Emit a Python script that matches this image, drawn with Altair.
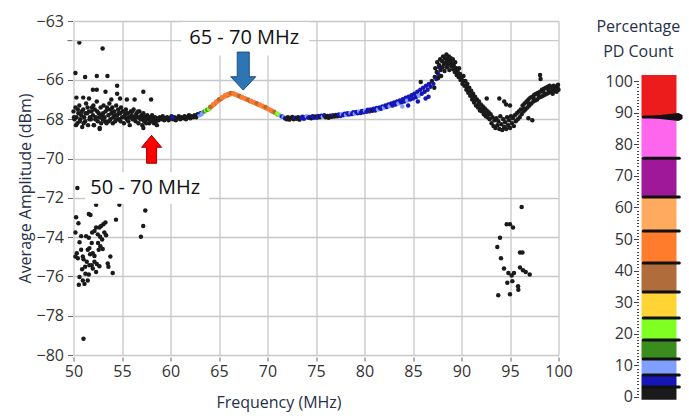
import altair as alt
import pandas as pd

# ---------------- data ----------------
# pct codes: 1 black, 5 dark blue, 10 light blue, 15 dark green, 22 bright green,
# 38 brown, 47 orange, 57 light orange
seg_left = [
    (50.0, -67.6), (50.1, -68.0), (50.2, -67.4), (50.3, -67.9), (50.4, -68.2), (50.5, -67.7),
    (50.6, -67.3), (50.7, -68.0), (50.8, -67.8), (50.9, -68.4), (51.0, -67.5), (51.1, -67.9),
    (51.2, -68.1), (51.3, -67.2), (51.4, -67.7), (51.5, -68.3), (51.6, -67.6), (51.7, -67.9),
    (51.8, -68.0), (51.9, -67.4), (52.0, -67.8), (52.1, -68.3), (52.2, -67.5), (52.3, -67.9),
    (52.4, -67.1), (52.5, -68.1), (52.6, -67.7), (52.7, -68.5), (52.8, -67.4), (52.9, -67.8),
    (53.0, -68.0), (53.1, -67.3), (53.2, -67.9), (53.3, -67.6), (53.4, -68.2), (53.5, -67.5),
    (53.6, -67.8), (53.7, -67.2), (53.8, -68.0), (53.9, -67.7), (54.0, -67.4), (54.1, -67.9),
    (54.2, -67.6), (54.3, -68.1), (54.4, -67.3), (54.5, -67.8), (54.6, -67.5), (54.7, -68.0),
    (54.8, -67.7), (54.9, -67.4), (55.0, -67.9), (55.1, -67.6), (55.2, -68.2), (55.3, -67.8),
    (55.4, -67.5), (55.5, -68.0), (55.6, -67.7), (55.7, -67.9), (55.8, -68.3), (55.9, -67.6),
    (56.0, -67.8), (56.1, -68.0), (56.2, -67.5), (56.3, -67.9), (56.4, -68.1), (56.5, -67.7),
    (56.6, -67.9), (56.7, -68.2), (56.8, -67.6), (56.9, -68.0), (57.0, -67.8), (57.1, -68.3),
    (57.2, -67.7), (57.3, -68.1), (57.4, -67.9), (57.5, -68.2), (57.6, -67.8), (57.7, -68.0),
    (57.8, -68.2), (57.9, -67.9), (58.0, -68.1), (58.1, -67.8), (58.2, -68.0), (58.3, -68.2),
    (58.4, -67.9), (58.5, -68.1),
    (50.05, -67.9), (50.25, -68.3), (50.45, -67.5), (50.65, -68.1), (50.85, -67.6), (51.05, -68.2),
    (51.25, -67.7), (51.45, -67.4), (51.65, -68.0), (51.85, -67.6), (52.05, -67.3), (52.25, -68.0),
    (52.45, -67.6), (52.65, -67.9), (52.85, -68.2), (53.05, -67.7), (53.25, -68.1), (53.45, -67.4),
    (53.65, -68.1), (53.85, -67.5), (54.05, -68.2), (54.25, -67.8), (54.45, -68.0), (54.65, -67.7),
    (54.85, -68.1), (55.05, -67.6), (55.25, -67.9), (55.45, -67.7), (55.65, -68.1), (55.85, -67.9),
    (56.05, -67.6), (56.25, -68.0), (56.45, -67.8), (56.65, -67.6), (56.85, -67.9), (57.05, -68.0),
    (57.25, -67.9), (57.45, -68.0), (57.65, -67.9), (57.85, -68.0), (58.05, -67.9), (58.25, -68.1),
    (58.45, -67.95),
]
seg_outliers = [
    (50.6, -64.1), (53.0, -64.4), (50.2, -65.65), (51.2, -65.85), (52.4, -65.8), (53.5, -65.8),
    (52.0, -66.5), (52.4, -66.5), (53.3, -66.6), (54.5, -66.3), (54.5, -66.7), (57.2, -66.6),
    (56.3, -67.0), (58.0, -67.0), (55.5, -67.0), (54.8, -66.95), (52.7, -68.45), (52.1, -68.3),
    (57.2, -68.45), (58.6, -68.3), (51.0, -66.9), (53.9, -67.0), (51.6, -66.95), (50.3, -66.9),
    (50.4, -71.5),
]
seg_low_left = [
    (50.27, -72.99), (50.51, -73.29), (50.2, -73.77), (50.79, -73.95), (50.62, -74.26),
    (50.34, -74.82), (50.2, -74.99), (50.45, -75.08), (50.79, -74.64), (50.96, -74.99),
    (51.03, -75.13), (51.37, -75.25), (51.2, -75.51), (50.89, -75.63), (50.62, -76.03),
    (50.55, -76.42), (50.96, -76.21), (51.13, -76.38), (51.47, -76.21), (51.58, -75.9),
    (51.23, -75.86), (51.64, -75.43), (51.88, -75.43), (52.16, -75.25), (51.99, -75.6),
    (52.4, -75.37), (52.67, -75.48), (52.33, -75.77), (51.71, -74.87), (51.47, -74.64),
    (51.64, -74.56), (51.88, -74.3), (51.58, -74.03), (51.3, -73.95), (51.92, -73.77),
    (52.16, -73.69), (52.33, -73.51), (52.67, -73.51), (52.84, -73.43), (53.08, -73.34),
    (53.29, -73.25), (52.5, -73.86), (52.74, -73.98), (52.95, -74.12), (53.18, -73.77),
    (53.36, -73.91), (52.53, -74.3), (52.77, -74.47), (53.01, -74.61), (52.6, -74.64),
    (52.16, -74.96), (51.99, -74.82), (53.8, -74.99), (53.53, -75.34), (53.6, -75.51),
    (54.04, -75.83), (54.38, -73.11), (54.73, -72.35), (52.33, -72.35), (51.58, -72.82),
    (51.75, -72.87), (57.4, -72.64), (57.19, -73.43), (56.95, -73.98), (51.03, -79.17),
]
seg_low_right = [
    (96.2, -72.47), (94.66, -73.34), (95.0, -73.34), (95.31, -73.51), (93.97, -74.03),
    (93.69, -74.5), (94.07, -75.08), (94.38, -75.6), (94.83, -75.83), (95.17, -75.95),
    (95.41, -75.83), (96.03, -74.78), (96.28, -74.78), (96.03, -75.55), (96.34, -75.69),
    (96.62, -75.77), (97.03, -75.9), (94.72, -76.32), (95.24, -76.24), (95.83, -76.5),
    (95.86, -76.68), (93.79, -76.96), (95.0, -76.91),
]
seg_base = [
    (58.6, -67.95, 1), (58.75, -68.05, 1), (58.9, -67.9, 1), (59.05, -68.0, 1), (59.2, -67.85, 1),
    (59.35, -68.05, 1), (59.5, -67.95, 1), (59.65, -67.9, 1), (59.8, -68.05, 1), (59.95, -67.95, 1),
    (60.1, -67.85, 1), (60.25, -68.0, 1), (60.4, -67.9, 1), (60.55, -68.05, 1), (60.7, -67.95, 1),
    (60.85, -67.85, 1), (61.0, -68.0, 1), (61.15, -67.9, 1), (61.3, -67.95, 1), (61.45, -67.85, 1),
    (61.6, -68.0, 1), (61.75, -67.9, 1), (61.9, -67.8, 1), (62.05, -67.95, 1), (62.2, -67.85, 1),
    (62.35, -67.9, 1), (62.5, -67.8, 1), (62.65, -67.9, 1), (62.8, -67.75, 1), (60.2, -67.9, 5),
]
seg_hump = [
    (63.0, -67.8, 10), (63.1, -67.7, 5), (63.2, -67.75, 10), (63.35, -67.65, 10), (63.5, -67.6, 15),
    (63.65, -67.55, 22), (63.8, -67.52, 15), (63.95, -67.47, 22), (64.0, -67.48, 22),
    (64.15, -67.4, 47), (64.3, -67.33, 47), (64.45, -67.27, 47), (64.6, -67.2, 38), (64.75, -67.14, 47),
    (64.9, -67.08, 47), (65.05, -67.02, 47), (65.2, -66.97, 38), (65.35, -66.92, 47), (65.5, -66.87, 47),
    (65.65, -66.83, 47), (65.8, -66.8, 47), (65.95, -66.77, 38), (66.1, -66.74, 47), (66.25, -66.72, 47),
    (66.4, -66.7, 47), (66.55, -66.73, 47), (66.7, -66.76, 47), (66.85, -66.79, 57), (67.0, -66.82, 38),
    (67.15, -66.86, 47), (67.3, -66.89, 47), (67.45, -66.92, 47), (67.6, -66.95, 47), (67.75, -66.98, 47),
    (67.9, -67.01, 47), (68.05, -67.04, 47), (68.2, -67.08, 38), (68.35, -67.11, 47), (68.5, -67.14, 47),
    (68.65, -67.17, 47), (68.8, -67.2, 47), (68.95, -67.24, 47), (69.1, -67.27, 47), (69.25, -67.3, 47),
    (69.4, -67.33, 57), (69.55, -67.37, 47), (69.7, -67.4, 47), (69.85, -67.44, 47), (70.0, -67.47, 47),
    (70.15, -67.51, 47), (70.3, -67.55, 47), (70.45, -67.59, 38), (70.6, -67.63, 47), (70.75, -67.67, 38),
    (70.9, -67.72, 22), (71.05, -67.76, 15), (71.2, -67.79, 22), (71.35, -67.83, 10), (71.5, -67.86, 5),
    (71.65, -67.88, 10),
    (64.1, -67.36, 38), (64.4, -67.24, 47), (64.7, -67.1, 47), (65.0, -66.98, 38), (65.3, -66.88, 47),
    (65.6, -66.78, 47), (65.9, -66.72, 47), (66.2, -66.67, 38), (66.5, -66.68, 47), (66.8, -66.74, 47),
    (67.1, -66.81, 38), (67.4, -66.87, 47), (67.7, -66.93, 47), (68.0, -66.99, 38), (68.3, -67.06, 47),
    (68.6, -67.12, 47), (68.9, -67.19, 38), (69.2, -67.25, 47), (69.5, -67.31, 47), (69.8, -67.38, 38),
    (70.1, -67.46, 47), (70.4, -67.54, 47), (70.7, -67.62, 38), (71.0, -67.71, 22),
]
seg_rise = [
    (71.8, -67.95, 5), (71.95, -68.0, 1), (72.1, -67.9, 1), (72.25, -68.02, 1), (72.4, -67.95, 1),
    (72.55, -67.88, 1), (72.7, -68.0, 1), (72.85, -67.92, 5), (73.0, -67.98, 1), (73.15, -67.9, 1),
    (73.3, -68.02, 1), (73.45, -67.93, 5), (73.6, -67.87, 5), (73.75, -67.97, 5), (73.9, -67.9, 5),
    (74.05, -67.85, 10), (74.2, -67.93, 5), (74.35, -67.88, 5), (74.5, -67.95, 1), (74.65, -67.85, 5),
    (74.8, -67.92, 5), (74.95, -67.86, 1), (75.1, -67.93, 5), (75.25, -67.84, 5), (75.4, -67.9, 1),
    (75.55, -67.82, 5), (75.7, -67.88, 10), (75.85, -67.8, 5), (76.0, -67.9, 1), (76.15, -67.84, 1),
    (76.3, -67.92, 1), (76.45, -67.82, 1), (76.6, -67.88, 1), (76.75, -67.8, 5), (76.9, -67.86, 1),
    (77.05, -67.78, 1), (77.2, -67.85, 1), (77.35, -67.76, 5), (77.5, -67.83, 5), (77.65, -67.74, 10),
    (77.8, -67.8, 5), (77.95, -67.72, 5), (78.1, -67.78, 10), (78.25, -67.7, 5), (78.4, -67.76, 5),
    (78.55, -67.68, 10), (78.7, -67.74, 5), (78.85, -67.65, 5), (79.0, -67.72, 10), (79.15, -67.63, 5),
    (79.3, -67.7, 5), (79.45, -67.6, 10), (79.6, -67.68, 5), (79.75, -67.58, 5), (79.9, -67.65, 5),
    (80.05, -67.55, 10), (80.2, -67.62, 5), (80.35, -67.52, 5), (80.5, -67.6, 5), (80.65, -67.5, 5),
    (80.8, -67.57, 1), (80.95, -67.47, 5), (81.1, -67.55, 5), (81.25, -67.43, 5), (81.4, -67.5, 10),
    (81.55, -67.4, 5), (81.7, -67.47, 5), (81.85, -67.35, 5), (82.0, -67.42, 10), (82.15, -67.3, 5),
    (82.3, -67.38, 5), (82.45, -67.25, 5), (82.6, -67.34, 10), (82.75, -67.2, 5), (82.9, -67.3, 5),
    (83.05, -67.15, 5), (83.2, -67.25, 5), (83.35, -67.1, 5), (83.5, -67.2, 10), (83.65, -67.05, 5),
    (83.8, -67.15, 5), (83.95, -66.98, 5), (84.1, -67.1, 5), (84.25, -66.9, 5), (84.4, -67.05, 10),
    (84.55, -66.85, 5), (84.7, -67.0, 5), (84.85, -66.78, 5), (85.0, -66.95, 5), (85.15, -66.7, 5),
    (85.3, -66.88, 5), (85.45, -66.6, 5), (85.6, -66.8, 10), (85.75, -66.5, 5), (85.9, -66.7, 5),
    (86.05, -66.4, 5), (86.2, -66.6, 5), (86.35, -66.3, 5), (86.5, -66.5, 5), (86.65, -66.2, 5),
    (86.8, -66.35, 5), (86.95, -66.05, 1), (87.1, -66.2, 5), (87.25, -65.85, 1), (87.4, -65.95, 5),
    (84.5, -67.3, 5), (83.9, -67.35, 10), (85.5, -67.1, 5), (86.3, -66.95, 5), (86.6, -66.85, 5),
    (85.8, -66.1, 1), (87.6, -65.7, 5), (87.7, -65.35, 5), (87.2, -66.4, 1),
]
seg_peak = [
    (87.3, -65.4), (87.45, -65.6), (87.5, -65.1), (87.6, -65.9), (87.7, -65.25), (87.8, -64.95),
    (87.85, -65.5), (87.9, -65.8), (88.0, -65.05), (88.05, -65.35), (88.1, -64.8), (88.2, -65.2),
    (88.25, -65.55), (88.3, -64.9), (88.4, -65.1), (88.45, -64.7), (88.5, -65.35), (88.55, -64.95),
    (88.6, -65.2), (88.7, -64.8), (88.75, -65.5), (88.8, -65.05), (88.9, -64.9), (88.95, -65.3),
    (89.0, -65.15), (89.1, -64.95), (89.15, -65.45), (89.2, -65.25), (89.3, -65.6), (89.35, -65.1),
    (89.45, -65.4), (89.5, -65.75), (89.6, -65.55), (89.7, -65.85), (89.75, -65.4), (89.85, -65.7),
    (89.9, -66.0),
    (90.0, -65.9), (90.1, -66.2), (90.2, -65.8), (90.3, -66.3), (90.4, -66.05), (90.5, -66.5),
    (90.6, -66.2), (90.7, -66.65), (90.8, -66.4), (90.9, -66.8), (91.0, -66.55), (91.1, -67.0),
    (91.2, -66.7), (91.3, -67.15), (91.4, -66.85), (91.5, -67.3), (91.6, -67.0), (91.7, -67.4),
    (91.8, -67.1), (91.9, -67.55), (92.0, -67.25), (92.1, -67.6), (92.2, -67.35), (92.3, -67.75),
    (92.4, -67.45), (92.5, -67.85), (92.6, -67.55), (92.7, -67.9), (92.8, -67.65), (92.9, -68.0),
    (90.25, -66.05), (90.55, -66.35), (90.85, -66.6), (91.15, -66.85), (91.45, -67.05),
    (91.75, -67.25), (92.05, -67.45), (92.35, -67.6), (92.65, -67.75),
    (92.6, -66.95), (93.9, -66.95), (94.4, -67.1), (95.0, -67.3), (94.6, -67.25),
    (93.0, -67.75), (93.1, -68.2), (93.2, -67.9), (93.3, -68.35), (93.4, -68.05), (93.5, -68.45),
    (93.6, -67.95), (93.7, -68.3), (93.8, -68.1), (93.9, -68.5), (94.0, -67.85), (94.1, -68.25),
    (94.2, -68.55), (94.3, -68.0), (94.4, -68.4), (94.5, -68.15), (94.6, -68.5), (94.7, -67.9),
    (94.8, -68.3), (94.9, -68.05), (95.0, -68.45), (95.1, -67.85), (95.2, -68.2), (95.3, -67.95),
    (95.4, -68.35), (95.5, -67.8), (95.6, -68.1), (95.7, -67.7), (95.8, -68.0),
    (95.9, -67.6), (96.0, -67.9), (96.1, -67.5), (96.2, -67.75), (96.3, -67.3), (96.4, -67.6),
    (96.5, -67.2), (96.6, -67.5), (96.7, -67.1), (96.8, -67.4), (96.9, -67.0), (97.0, -67.3),
    (97.1, -66.9), (97.2, -67.2), (97.3, -66.85), (97.4, -67.1), (97.5, -66.75), (97.6, -67.05),
    (97.7, -66.7), (97.8, -67.0), (97.9, -66.65), (98.0, -66.9), (98.1, -66.6), (98.2, -66.85),
    (98.3, -66.5), (98.4, -66.8), (98.5, -66.45), (98.6, -66.75), (98.7, -66.4), (98.8, -66.7),
    (98.9, -66.35), (99.0, -66.65), (99.1, -66.3), (99.2, -66.6), (99.3, -66.4), (99.4, -66.7),
    (99.5, -66.3), (99.6, -66.55), (99.7, -66.35), (99.8, -66.6), (99.9, -66.4), (100.0, -66.5),
    (98.1, -65.75), (98.15, -65.95), (97.3, -68.05), (96.9, -67.95),
    (96.45, -67.45), (96.95, -67.2), (97.45, -66.95), (97.95, -66.8), (98.45, -66.6),
    (98.95, -66.5), (99.45, -66.5), (99.95, -66.25),
]

# axis ticks / extra grid line (the -64 line carries no label in the picture)
y_label_values = [-80, -78, -76, -74, -72, -70, -68, -66, -63]
x_label_values = [50, 55, 60, 65, 70, 75, 80, 85, 90, 95, 100]
extra_grid_y = [-64]

# legend (colour bar) data
band_lo = [-0.9, 3.2, 7, 12, 18, 25, 33.2, 42.4, 52.5, 63.3, 75.6, 88.6]
band_hi = [3.2, 7, 12, 18, 25, 33.2, 42.4, 52.5, 63.3, 75.6, 88.6, 101.9]
band_colors = ["#1a1a1a", "#1616b8", "#80a0ff", "#3a8c1c", "#80ff22", "#ffd434",
               "#b06c3a", "#ff7c2c", "#ffaa5e", "#a0189a", "#ff66ee", "#ec1c1c"]
thresholds = band_lo[1:]
marker_value = [88.6]
legend_title = ["Percentage", "PD Count"]
legend_title_y = [117.1, 109.2]

# annotations
label_text = ["65 - 70 MHz", "50 - 70 MHz"]
label_x = [67.6, 57.4]
label_y = [-63.87, -71.52]
box_x0 = [61.1, 51.2]
box_x1 = [74.3, 64.0]
box_y0 = [-63.05, -70.7]
box_y1 = [-64.75, -72.3]
blue_arrow = (67.5, -65.55)
red_arrow = (58.05, -69.53)

# ---------------- build tables ----------------
rows = []
for x, y in seg_left + seg_outliers + seg_low_left + seg_low_right:
    rows.append({"f": x, "a": y, "p": 1})
for x, y, p in seg_base + seg_hump + seg_rise:
    rows.append({"f": x, "a": y, "p": p})
for x, y in seg_peak:
    rows.append({"f": x, "a": y, "p": 1})
pts = pd.DataFrame(rows)

color_scale = alt.Scale(type="threshold", domain=thresholds, range=band_colors)
FONT = "Open Sans"
TXT = "#333333"
TTL = "#26304a"
GRID = "#c8c8c8"
xs = alt.Scale(domain=[50, 100], nice=False, zero=False)
ys = alt.Scale(domain=[-80, -63], nice=False, zero=False)

base_pts = alt.Chart(pts).mark_circle(size=20, opacity=1).encode(
    x=alt.X("f:Q", scale=xs, title="Frequency (MHz)",
            axis=alt.Axis(values=x_label_values, grid=True, gridColor=GRID,
                          gridWidth=1.3, domain=False, tickSize=4, offset=2, tickColor="#666",
                          labelFont=FONT, labelFontSize=16, labelColor=TXT, labelPadding=2,
                          labelOverlap=False, labelFlush=False,
                          titleFont=FONT, titleFontSize=16, titleFontWeight="normal",
                          titleColor=TTL, titlePadding=15, titleX=205)),
    y=alt.Y("a:Q", scale=ys, title="Average Amplitude (dBm)",
            axis=alt.Axis(values=y_label_values,
                          grid=True, gridColor=GRID, gridWidth=1.3, domain=False,
                          tickSize=5, offset=1, tickColor="#666", labelOverlap=False,
                          labelFlush=False,
                          labelFont=FONT, labelFontSize=16, labelColor=TXT, labelPadding=4,
                          titleFont=FONT, titleFontSize=16, titleFontWeight="normal",
                          titleColor=TTL, titlePadding=3)),
    color=alt.Color("p:Q", scale=color_scale, legend=None),
)

eg = pd.DataFrame({"g": extra_grid_y})
grid64 = alt.Chart(eg).mark_rule(color=GRID, strokeWidth=1.3).encode(
    x=alt.datum(50, scale=xs), x2=alt.datum(100), y=alt.Y("g:Q", scale=ys))
tick64 = alt.Chart(eg).mark_rule(color="#666", strokeWidth=1).encode(
    x=alt.datum(49.38, scale=xs), x2=alt.datum(49.9), y=alt.Y("g:Q", scale=ys))

ann = pd.DataFrame({"t": label_text, "x": label_x, "y": label_y,
                    "x0": box_x0, "x1": box_x1, "y0": box_y0, "y1": box_y1})
boxes = alt.Chart(ann).mark_rect(color="white").encode(
    x=alt.X("x0:Q", scale=xs), x2="x1:Q", y=alt.Y("y0:Q", scale=ys), y2="y1:Q")
texts = alt.Chart(ann).mark_text(font=FONT, fontSize=20, color="#111").encode(
    x=alt.X("x:Q", scale=xs), y=alt.Y("y:Q", scale=ys), text="t:N")

down_path = "M-0.48,-1.52 L0.48,-1.52 L0.48,0.45 L1,0.45 L0,1.52 L-1,0.45 L-0.48,0.45 Z"
up_path = "M0,-1.4 L1,-0.2 L0.5,-0.2 L0.5,1.4 L-0.5,1.4 L-0.5,-0.2 L-1,-0.2 Z"
barrow = alt.Chart(pd.DataFrame({"x": [blue_arrow[0]], "y": [blue_arrow[1]]})).mark_point(
    shape=down_path, size=625, filled=True, fill="#2e75b6", stroke="#1f4e79", strokeWidth=1, opacity=1
).encode(x=alt.X("x:Q", scale=xs), y=alt.Y("y:Q", scale=ys))
rarrow = alt.Chart(pd.DataFrame({"x": [red_arrow[0]], "y": [red_arrow[1]]})).mark_point(
    shape=up_path, size=400, filled=True, fill="#ff0000", stroke="#a00000", strokeWidth=1, opacity=1
).encode(x=alt.X("x:Q", scale=xs), y=alt.Y("y:Q", scale=ys))

main = alt.layer(base_pts, grid64, tick64, boxes, barrow, rarrow, texts).properties(
    width=485, height=334)

# ---------------- legend ----------------
bands = pd.DataFrame({"lo": band_lo, "hi": band_hi, "p": [(a + b) / 2 for a, b in zip(band_lo, band_hi)]})
lys = alt.Scale(domain=[-0.95, 119.0], nice=False, zero=False)
lxs = alt.Scale(domain=[0, 1], nice=False, zero=False)
bar = alt.Chart(bands).mark_rect().encode(
    x=alt.datum(0, scale=lxs, axis=None), x2=alt.datum(1),
    y=alt.Y("lo:Q", scale=lys, title=None,
            axis=alt.Axis(orient="left", values=list(range(0, 101, 10)), domain=False, grid=False,
                          tickSize=5, offset=3, tickColor="#444", labelFont=FONT, labelFontSize=16,
                          labelColor=TXT, labelPadding=1, labelOverlap=False, labelFlush=False)),
    y2="hi:Q",
    color=alt.Color("p:Q", scale=color_scale, legend=None),
)
bnd = pd.DataFrame({"b": thresholds})
lines = alt.Chart(bnd).mark_rule(color="#111", strokeWidth=3, strokeCap="round").encode(
    x=alt.datum(0.05, scale=lxs), x2=alt.datum(1.08),
    y=alt.Y("b:Q", scale=lys, title=None,
            axis=alt.Axis(orient="left", values=list(range(0, 101, 1)), labels=False, domain=False,
                          grid=False, tickSize=2, offset=3, tickColor="#444")),
)
marker_path = "M-1,0 L0.8,-0.2 L1,-0.1 L1,0.1 L0.8,0.2 Z"
marker = alt.Chart(pd.DataFrame({"m": marker_value})).mark_point(
    shape=marker_path, size=1600, filled=True, fill="#111", opacity=1
).encode(x=alt.datum(0.6, scale=lxs), y=alt.Y("m:Q", scale=lys, axis=None))
ltitle = alt.Chart(pd.DataFrame({"t": legend_title, "y": legend_title_y})).mark_text(
    font=FONT, fontSize=16, color=TTL
).encode(x=alt.datum(-0.09, scale=lxs), y=alt.Y("y:Q", scale=lys, axis=None), text="t:N")

legend = alt.layer(bar, lines, marker, ltitle).resolve_axis(y="independent").properties(
    width=35, height=379,
)

chart = alt.hconcat(main, legend, spacing=23).properties(
    padding={"left": 16.5, "top": 13, "right": 0, "bottom": 2}
).configure_view(stroke=None).configure_axis(labelOverlap=False)

chart.save("out.html", embed_options={"renderer": "svg", "actions": False})
